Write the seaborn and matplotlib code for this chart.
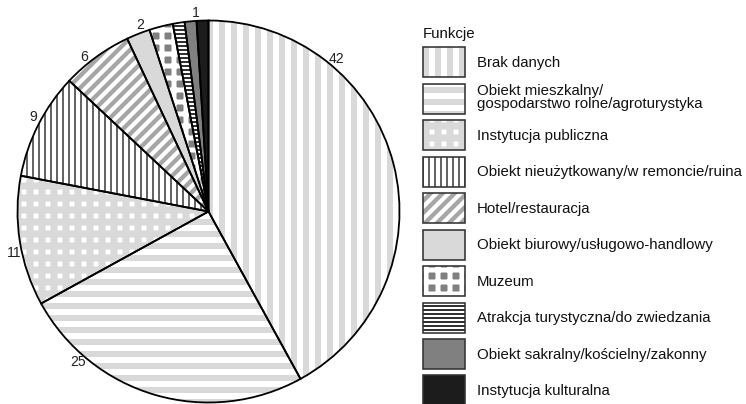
import numpy as np
import matplotlib
matplotlib.use('Agg')
import matplotlib.pyplot as plt
import seaborn as sns
from matplotlib.patches import Patch, Wedge
from matplotlib.legend_handler import HandlerTuple, HandlerPatch

# data
categories = ['Brak danych',
              'Obiekt mieszkalny/\ngospodarstwo rolne/agroturystyka',
              'Instytucja publiczna',
              'Obiekt nieużytkowany/w remoncie/ruina',
              'Hotel/restauracja',
              'Obiekt biurowy/usługowo-handlowy',
              'Muzeum',
              'Atrakcja turystyczna/do zwiedzania',
              'Obiekt sakralny/kościelny/zakonny',
              'Instytucja kulturalna']
counts = [42, 25, 11, 9, 6, 2, 2, 1, 1, 1]
shown = [True, True, True, True, True, True, False, False, True, False]

# fill styles: facecolor, hatch, hatch colour, hatch linewidth
faces = ['white', 'white', 'white', 'white', 'white', '#d9d9d9', '#808080', 'white', '#808080', '#1c1c1c']
hatches = ['|', '-', '+', '||', '//', None, '+', '---', None, None]
hatch_colors = ['#d9d9d9', '#d9d9d9', '#d9d9d9', 'black', '#a6a6a6', '#d9d9d9', 'white', 'black', '#808080', '#1c1c1c']
hatch_lws = [6, 6, 7, 1.2, 4.3, 1, 5, 1.6, 1, 1]
# where along each wedge (clockwise) the count label sits
label_frac = [0.265, 0.774, 0.425, 0.54, 0.37, 0.69, 0.5, 0.5, 0.95, 0.5]


class HatchHandler(HandlerPatch):
    # legend copy of a wedge loses the hatch linewidth, put it back
    def create_artists(self, legend, orig_handle, xdescent, ydescent, width, height, fontsize, trans):
        arts = super().create_artists(legend, orig_handle, xdescent, ydescent,
                                      width, height, fontsize, trans)
        for a in arts:
            a.set_hatch_linewidth(orig_handle.get_hatch_linewidth())
        return arts


sns.set_theme(style='white')
plt.rcParams['font.family'] = ['Liberation Sans', 'DejaVu Sans']

W, H = 746, 404
fig = plt.figure(figsize=(W / 72, H / 72), dpi=72)
cx, cy, r = 208.5, 211.5, 191
ax = fig.add_axes([(cx - r) / W, (H - cy - r) / H, 2 * r / W, 2 * r / H])

fills, _ = ax.pie(counts, startangle=90, counterclock=False, radius=1,
                  wedgeprops=dict(linewidth=0))
for w, fc, h, hc, hl in zip(fills, faces, hatches, hatch_colors, hatch_lws):
    w.set_facecolor(fc)
    w.set_edgecolor(hc)
    w.set_hatch(h)
    w.set_linewidth(0)
    w.set_hatch_linewidth(hl)

outlines, _ = ax.pie(counts, startangle=90, counterclock=False, radius=1,
                     wedgeprops=dict(facecolor='none', edgecolor='black', linewidth=1.8))

for w, n, s, f in zip(fills, counts, shown, label_frac):
    if not s:
        continue
    ang = np.deg2rad(w.theta2 - f * (w.theta2 - w.theta1))
    ax.text(1.04 * np.cos(ang), 1.04 * np.sin(ang), str(n), ha='center', va='center',
            fontsize=14, color='#222222')

ax.set_xlim(-1, 1)
ax.set_ylim(-1, 1)
ax.axis('off')

handles = []
for w in fills:
    box = Patch(facecolor='none', edgecolor='#333333', linewidth=1.6)
    handles.append((w, box))

leg = fig.legend(handles, categories, loc='upper left',
                 bbox_to_anchor=(423 / W, 1 - 27 / H), frameon=False,
                 title='Funkcje', alignment='left', fontsize=15, title_fontsize=15,
                 handler_map={tuple: HandlerTuple(ndivide=1, pad=0), Wedge: HatchHandler()},
                 handlelength=2.8, handleheight=2.7, handletextpad=0.8,
                 labelspacing=0.43, borderpad=0, borderaxespad=0)
for t in leg.get_texts():
    t.set_linespacing(0.9)
    t.set_color('#111111')
leg.get_title().set_color('#111111')

plt.savefig('out.png', dpi=72)
